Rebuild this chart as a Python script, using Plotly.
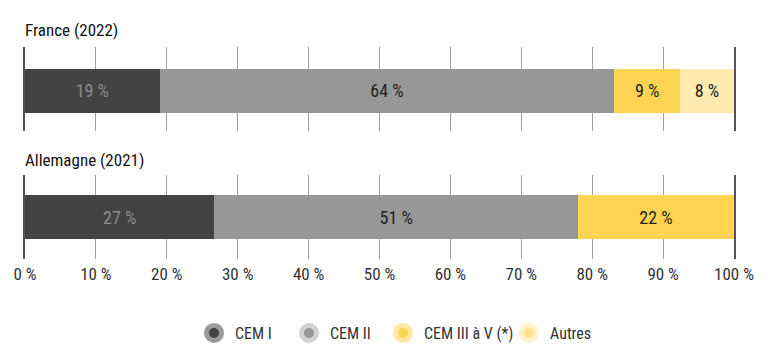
import plotly.graph_objects as go

countries = ["France (2022)", "Allemagne (2021)"]
series = ["CEM I", "CEM II", "CEM III à V (*)", "Autres"]
france = [19.0, 64.1, 9.3, 7.6]
allemagne = [26.7, 51.3, 22.0, None]
tick_vals = [0, 10, 20, 30, 40, 50, 60, 70, 80, 90, 100]
tick_text = ["0 %", "10 %", "20 %", "30 %", "40 %", "50 %", "60 %", "70 %", "80 %", "90 %", "100 %"]

bar_colors = ["#434343", "#979797", "#FFD452", "#FFEBB0"]
ring_colors = ["#9a9a9a", "#d2d2d2", "#FFE8A0", "#FFF2CC"]
dot_colors = ["#434343", "#979797", "#FFD452", "#FFE390"]
text_colors = ["#8c8c8c", "#222222", "#222222", "#222222"]
legend_text_px = [235, 330, 424, 550]

FONT = "Liberation Sans Narrow, Roboto Condensed, Roboto, sans-serif"
legend_ids = ["legend", "legend2", "legend3", "legend4"]

fig = go.Figure()
for i, name in enumerate(series):
    for vals, xa, ya in [(france, "x", "y"), (allemagne, "x2", "y2")]:
        v = vals[i]
        fig.add_trace(go.Bar(
            x=[v], y=[0], orientation="h", xaxis=xa, yaxis=ya,
            marker=dict(color=bar_colors[i], line=dict(width=0)),
            texttemplate="%{x:.0f} %", textposition="inside", insidetextanchor="middle",
            textfont=dict(color=text_colors[i], size=18, family=FONT),
            showlegend=False, legendgroup=name, name=name, hoverinfo="x+name",
        ))
    fig.add_trace(go.Scatter(
        x=[None], y=[None], mode="markers", name=name, legendgroup=name,
        legend=legend_ids[i],
        marker=dict(size=15, color=dot_colors[i], line=dict(color=ring_colors[i], width=5)),
        xaxis="x", yaxis="y",
    ))

axis_common = dict(range=[0, 100], tickvals=tick_vals, ticktext=tick_text, showgrid=True,
                   gridcolor="#a0a0a0", gridwidth=1, zeroline=False, showline=False,
                   fixedrange=True, tickfont=dict(size=17, color="#333333", family=FONT))

legend_style = dict(orientation="h", xref="container", yref="container", y=1 - 333 / 353,
                    xanchor="left", yanchor="middle", itemwidth=32,
                    font=dict(size=16, color="#333333", family=FONT),
                    bgcolor="rgba(0,0,0,0)", borderwidth=0)
legends = {}
for i, lid in enumerate(legend_ids):
    legends[lid] = dict(legend_style, x=(legend_text_px[i] - 42) / 781)

fig.update_layout(
    width=781, height=353,
    margin=dict(l=25, r=47, t=0, b=0, autoexpand=False),
    paper_bgcolor="white", plot_bgcolor="white",
    barmode="stack", bargap=0.476,
    font=dict(family=FONT, size=16, color="#222222"),
    xaxis=dict(axis_common, anchor="y", showticklabels=False),
    xaxis2=dict(axis_common, anchor="y2", showticklabels=True, ticks="", ticklen=0,
                ticklabelstandoff=3),
    yaxis=dict(domain=[1 - 131 / 353, 1 - 47 / 353], range=[-0.482, 0.518], showticklabels=False,
               showgrid=False, zeroline=False, showline=True, mirror=True,
               linecolor="#555555", linewidth=1.5, fixedrange=True),
    yaxis2=dict(domain=[1 - 259 / 353, 1 - 175 / 353], range=[-0.5, 0.5], showticklabels=False,
                showgrid=False, zeroline=False, showline=True, mirror=True,
                linecolor="#555555", linewidth=1.5, fixedrange=True),
    annotations=[
        dict(text=countries[0], xref="paper", yref="paper", x=-0.003, y=1 - 30 / 353,
             xanchor="left", yanchor="middle", showarrow=False,
             font=dict(size=17, color="#111111", family=FONT)),
        dict(text=countries[1], xref="paper", yref="paper", x=-0.003, y=1 - 160 / 353,
             xanchor="left", yanchor="middle", showarrow=False,
             font=dict(size=17, color="#111111", family=FONT)),
    ],
    **legends,
)

fig.write_html("out.html")
